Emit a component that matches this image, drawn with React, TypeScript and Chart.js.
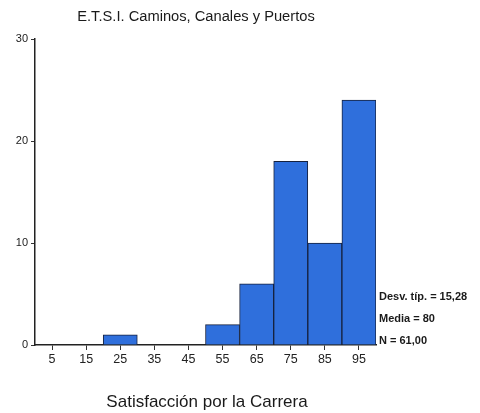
import React, { useEffect, useRef } from "react";
import { Chart, registerables } from "chart.js";

Chart.register(...registerables);

const categories = ["5", "15", "25", "35", "45", "55", "65", "75", "85", "95"];
const counts = [0, 0, 1, 0, 0, 2, 6, 18, 10, 24];
const yTicks = [0, 10, 20, 30];
const titleText = "E.T.S.I. Caminos, Canales y Puertos";
const xTitleText = "Satisfacción por la Carrera";
const statsLines = ["Desv. típ. = 15,28", "Media = 80", "N = 61,00"];

const FONT = "'Liberation Sans', Arial, Helvetica, sans-serif";

export default function App() {
  const ref = useRef<HTMLCanvasElement | null>(null);

  useEffect(() => {
    document.body.style.margin = "0";
    const canvas = ref.current;
    if (!canvas) return;

    const textPlugin = {
      id: "texts",
      afterDraw(chart: any) {
        const ctx = chart.ctx;
        const area = chart.chartArea;
        ctx.save();
        ctx.fillStyle = "#1a1a1a";
        ctx.textBaseline = "middle";
        ctx.textAlign = "center";
        ctx.font = `14.7px ${FONT}`;
        ctx.fillText(titleText, 196, 17);
        ctx.font = `17px ${FONT}`;
        ctx.fillText(xTitleText, 207, 402);
        ctx.textAlign = "left";
        ctx.font = `bold 11px ${FONT}`;
        statsLines.forEach((s, i) => {
          ctx.fillText(s, area.right + 3, 297 + i * 22);
        });
        ctx.restore();
      },
    };

    const chart = new Chart(canvas, {
      type: "bar",
      data: {
        labels: categories,
        datasets: [
          {
            data: counts,
            backgroundColor: "#2f6fdc",
            borderColor: "#16213d",
            borderWidth: 1,
            barPercentage: 1,
            categoryPercentage: 1,
          },
        ],
      },
      options: {
        animation: false,
        responsive: false,
        devicePixelRatio: 1,
        layout: { padding: { left: 0, right: 104, top: 39, bottom: 0 } },
        plugins: {
          legend: { display: false },
          tooltip: { enabled: false },
          title: { display: false },
        },
        scales: {
          x: {
            offset: true,
            grid: {
              display: true,
              offset: false,
              drawOnChartArea: false,
              drawTicks: true,
              tickLength: 5,
              color: "#333",
            },
            border: { display: true, color: "#222", width: 1.5 },
            ticks: {
              color: "#222",
              font: { family: FONT, size: 12.5 },
              padding: 2,
              maxRotation: 0,
              autoSkip: false,
            },
            afterFit: (scale: any) => {
              scale.height = 413 - 345;
            },
          },
          y: {
            min: 0,
            max: 30,
            afterBuildTicks: (scale: any) => {
              scale.ticks = yTicks.map((v) => ({ value: v }));
            },
            grid: {
              display: true,
              drawOnChartArea: false,
              drawTicks: true,
              tickLength: 4,
              color: "#333",
            },
            border: { display: true, color: "#222", width: 1.5 },
            ticks: {
              color: "#222",
              font: { family: FONT, size: 11 },
              padding: 3,
            },
            afterFit: (scale: any) => {
              scale.width = 35;
            },
          },
        },
      },
      plugins: [textPlugin],
    });

    return () => chart.destroy();
  }, []);

  return (
    <div style={{ position: "absolute", left: 0, top: 0, width: 480, height: 413, background: "#fff" }}>
      <canvas ref={ref} width={480} height={413} style={{ width: 480, height: 413, display: "block" }} />
    </div>
  );
}
